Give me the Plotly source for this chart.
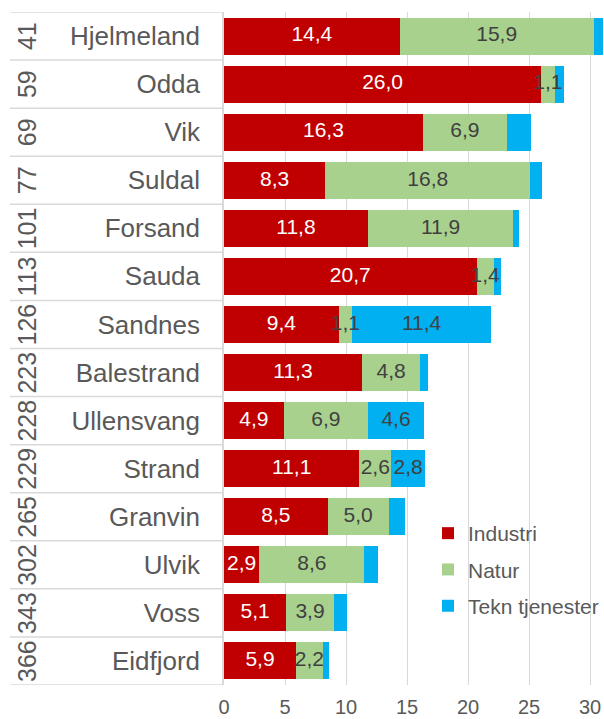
import plotly.graph_objects as go

# ---- data ----
names = ["Hjelmeland", "Odda", "Vik", "Suldal", "Forsand", "Sauda", "Sandnes",
         "Balestrand", "Ullensvang", "Strand", "Granvin", "Ulvik", "Voss", "Eidfjord"]
ranks = ["41", "59", "69", "77", "101", "113", "126",
         "223", "228", "229", "265", "302", "343", "366"]
industri = [14.4, 26.0, 16.3, 8.3, 11.8, 20.7, 9.4, 11.3, 4.9, 11.1, 8.5, 2.9, 5.1, 5.9]
natur = [15.9, 1.1, 6.9, 16.8, 11.9, 1.4, 1.1, 4.8, 6.9, 2.6, 5.0, 8.6, 3.9, 2.2]
tekn = [0.8, 0.8, 2.0, 1.0, 0.5, 0.6, 11.4, 0.6, 4.6, 2.8, 1.3, 1.1, 1.1, 0.5]
x_ticks = [0, 5, 10, 15, 20, 25, 30]

series = [
    ("Industri", industri, "#C00000", "#FFFFFF", 0.0),
    ("Natur", natur, "#A9D18E", "#404040", 0.0),
    ("Tekn tjenester", tekn, "#00B0F0", "#404040", 2.5),
]

FONT = "Liberation Sans, Arial, sans-serif"
GREY = "#595959"
LINE = "#D9D9D9"


def fmt(v):
    return f"{v:.1f}".replace(".", ",")


fig = go.Figure()
for i, (label, vals, color, tcolor, minlab) in enumerate(series):
    fig.add_trace(go.Bar(
        y=names, x=vals, orientation="h", name=label,
        marker=dict(color=color, line=dict(width=0)),
        legendgroup=f"g{i}", hoverinfo="skip",
    ))

# data labels drawn on top of all bars (centre of each stacked segment)
base = [0.0] * len(names)
for label, vals, color, tcolor, minlab in series:
    centers = [b + v / 2 for b, v in zip(base, vals)]
    fig.add_trace(go.Scatter(
        x=centers, y=names, mode="text",
        text=[fmt(v) if v > minlab else "" for v in vals],
        textposition="middle center",
        textfont=dict(family=FONT, size=21, color=tcolor),
        showlegend=False, hoverinfo="skip", cliponaxis=True,
    ))
    base = [b + v for b, v in zip(base, vals)]

# plot-area geometry (pixels)
W, H = 604, 719
L, R, T, B = 224, 0, 12, 34
pw = W - L - R
sep_x0 = (10 - L) / pw

shapes = []
for k in range(len(names) + 1):
    shapes.append(dict(type="line", xref="paper", yref="y",
                       x0=sep_x0, x1=0, y0=k - 0.5, y1=k - 0.5,
                       line=dict(color=LINE, width=1.5)))

annotations = []
for n, r in zip(names, ranks):
    annotations.append(dict(xref="paper", yref="y", x=(27 - L) / pw, y=n,
                            text=r, textangle=-90, showarrow=False,
                            font=dict(family=FONT, size=25, color=GREY),
                            xanchor="center", yanchor="middle"))

fig.update_layout(
    width=W, height=H,
    margin=dict(l=L, r=R, t=T, b=B, autoexpand=False),
    paper_bgcolor="white", plot_bgcolor="white",
    barmode="stack", bargap=0.23,
    font=dict(family=FONT, color=GREY),
    shapes=shapes, annotations=annotations,
    legend=dict(x=(428 - L) / pw, y=(H - B - 513) / (H - T - B), xanchor="left", yanchor="top",
                traceorder="grouped", tracegroupgap=6,
                font=dict(family=FONT, size=21, color=GREY),
                bgcolor="rgba(0,0,0,0)"),
    showlegend=True,
)
fig.update_xaxes(range=[0, (W - L) / 12.2], tickvals=x_ticks,
                 ticktext=[str(t) for t in x_ticks],
                 showgrid=True, gridcolor=LINE, gridwidth=1.2,
                 zeroline=False, showline=False,
                 ticks="outside", ticklen=4, tickcolor="rgba(0,0,0,0)",
                 tickfont=dict(family=FONT, size=20, color=GREY),
                 automargin=False, fixedrange=True)
fig.update_yaxes(categoryorder="array", categoryarray=names,
                 range=[len(names) - 0.5, -0.5],
                 showgrid=False, zeroline=False,
                 showline=True, linecolor=LINE, linewidth=1.5,
                 ticks="", ticklabelstandoff=17,
                 tickfont=dict(family=FONT, size=26, color=GREY),
                 automargin=False, fixedrange=True)

fig.write_html("out.html", config={"displayModeBar": False},
               post_script="document.body.style.margin='0';document.body.style.overflow='hidden';")
